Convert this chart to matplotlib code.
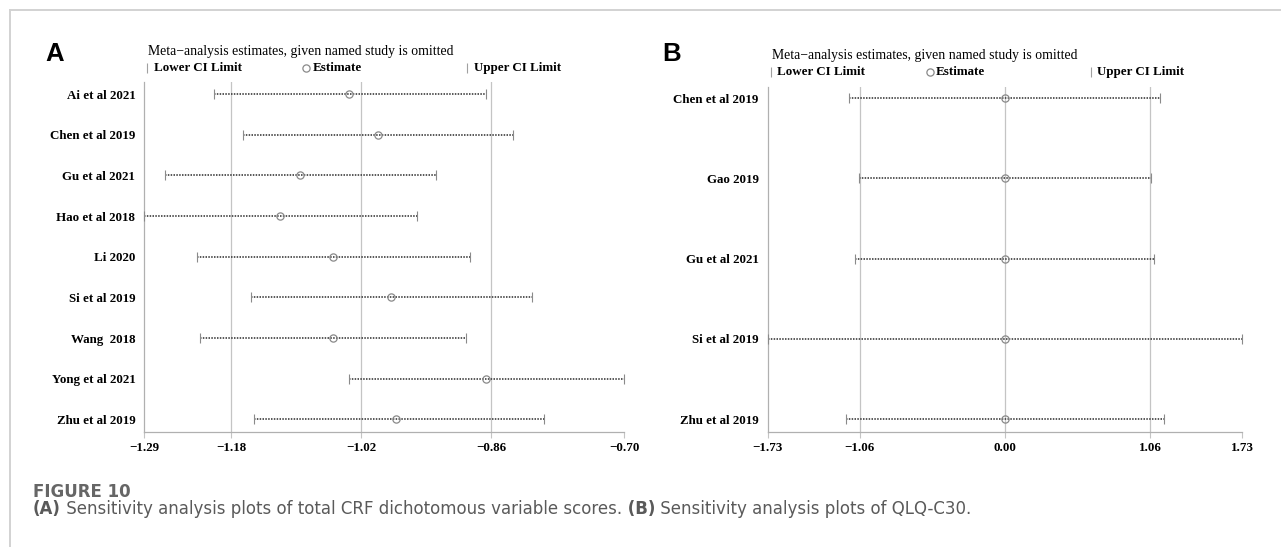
import matplotlib
matplotlib.use('Agg')
import matplotlib.pyplot as plt
from matplotlib.lines import Line2D

W, H = 1281, 547

# (A) total CRF dichotomous variable scores
studies_a = ['Ai et al 2021', 'Chen et al 2019', 'Gu et al 2021', 'Hao et al 2018', 'Li 2020',
             'Si et al 2019', 'Wang  2018', 'Yong et al 2021', 'Zhu et al 2019']
est_a = [-1.035, -0.999, -1.095, -1.120, -1.055, -0.984, -1.055, -0.867, -0.978]
lower_a = [-1.201, -1.165, -1.261, -1.287, -1.222, -1.156, -1.219, -1.035, -1.152]
upper_a = [-0.867, -0.834, -0.928, -0.951, -0.887, -0.810, -0.891, -0.697, -0.795]
overall_a = [-1.18, -1.02, -0.86]

# (B) QLQ-C30
studies_b = ['Chen et al 2019', 'Gao 2019', 'Gu et al 2021', 'Si et al 2019', 'Zhu et al 2019']
est_b = [0.00, 0.00, 0.00, 0.00, 0.00]
lower_b = [-1.135, -1.065, -1.090, -1.730, -1.160]
upper_b = [1.135, 1.065, 1.090, 1.730, 1.160]
overall_b = [-1.06, 0.00, 1.06]

TITLE = 'Meta\u2212analysis estimates, given named study is omitted'
SERIF = 'Liberation Serif'
GRID = '#c4c4c4'
MARK = '#8a8a8a'
CAPTION_GREY = '#5a5a5a'
CAPTION_FONT = 'DejaVu Sans'


def fx(px):
    return px / W


def fy(py):
    return 1 - py / H


def fmt(v):
    return ('%.2f' % v).replace('-', '\u2212')


def sensitivity_panel(fig, rect, studies, est, lower, upper, overall, ylim):
    ax = fig.add_axes(rect)
    n = len(studies)
    rows = list(range(n))

    lo, hi = min(lower), max(upper)
    ax.set_xlim(lo, hi)
    ax.set_ylim(*ylim)

    for v in overall:
        ax.axvline(v, color=GRID, lw=0.9, zorder=0)

    for i in rows:
        ax.plot([lower[i], upper[i]], [i, i], ls=(0, (0.9, 0.8)), color='#3c3c3c', lw=1.2, zorder=2)
        ax.plot([lower[i], upper[i]], [i, i], ls='none', marker='|', ms=6.5, mew=0.8,
                color=MARK, clip_on=False, zorder=3)
    ax.plot(est, rows, ls='none', marker='o', ms=5.2, mfc='none', mec=MARK, mew=0.9,
            clip_on=False, zorder=4)

    ticks = [lo] + overall + [hi]
    ax.set_xticks(ticks)
    ax.set_xticklabels([fmt(t) for t in ticks], family=SERIF, weight='bold', fontsize=9.4)
    ax.tick_params(axis='x', direction='out', length=4.3, width=0.8, color=GRID, pad=3.2)

    ax.set_yticks(rows)
    ax.set_yticklabels(studies, family=SERIF, weight='bold', fontsize=9.4)
    ax.tick_params(axis='y', length=0, pad=6.5)

    for s in ['top', 'right']:
        ax.spines[s].set_visible(False)
    for s in ['left', 'bottom']:
        ax.spines[s].set_color('#b0b0b0')
        ax.spines[s].set_linewidth(0.9)
    return ax


def header(fig, letter, x_letter, x0, y_title, y_leg):
    fig.text(fx(x_letter), fy(54), letter, family='Liberation Sans', weight='bold',
             fontsize=18.5, va='center', ha='left')
    fig.text(fx(x0 + 4), fy(y_title), TITLE, family=SERIF, fontsize=9.9, va='center')

    # legend: lower limit, estimate, upper limit
    items = [(3, '|', 'Lower CI Limit'), (162, 'o', 'Estimate'), (323, '|', 'Upper CI Limit')]
    for dx, marker, label in items:
        if marker == 'o':
            fig.add_artist(Line2D([fx(x0 + dx)], [fy(y_leg)], marker='o', ms=5.2, mfc='none',
                                  mec=MARK, mew=0.9, ls='none'))
            tx = x0 + dx + 6
        else:
            fig.add_artist(Line2D([fx(x0 + dx)], [fy(y_leg)], marker='|', ms=6.5, mew=0.8,
                                  color='#a0a0a0', ls='none'))
            tx = x0 + dx + 6.5
        fig.text(fx(tx), fy(y_leg), label, family=SERIF, weight='bold', fontsize=9.4,
                 va='center')


def caption(fig):
    cax = fig.add_axes([0, 0, 1, 1])
    cax.axis('off')
    cax.text(fx(33), fy(492), 'FIGURE 10', family=CAPTION_FONT, weight='bold',
             fontsize=12, color='#666666', va='center', transform=fig.transFigure)
    parts = [('(A)', 'bold'),
             (' Sensitivity analysis plots of total CRF dichotomous variable scores.', 'normal'),
             (' (B)', 'bold'),
             (' Sensitivity analysis plots of QLQ-C30.', 'normal')]
    prev = cax.text(fx(33), fy(518), parts[0][0], family=CAPTION_FONT, weight=parts[0][1],
                    fontsize=12, color=CAPTION_GREY, va='bottom', transform=fig.transFigure)
    for text, weight in parts[1:]:
        prev = cax.annotate(text, xy=(1, 0), xycoords=prev, va='bottom', ha='left',
                            family=CAPTION_FONT, weight=weight, fontsize=12,
                            color=CAPTION_GREY)


def plot_sensitivity():
    fig = plt.figure(figsize=(W / 100, H / 100), dpi=100)

    # page frame
    fig.add_artist(Line2D([fx(10), 1], [fy(9.5), fy(9.5)], color='#d2d2d2', lw=1.4))
    fig.add_artist(Line2D([fx(10), fx(10)], [fy(9.5), 0], color='#d2d2d2', lw=1.4))

    sp_a = 40.66
    sensitivity_panel(fig, [fx(144.3), fy(431.7), (624 - 144.3) / W, (431.7 - 82) / H],
                      studies_a, est_a, lower_a, upper_a, overall_a,
                      (8 + 12.3 / sp_a, -12 / sp_a))
    sp_b = 80.3
    sensitivity_panel(fig, [fx(767.7), fy(432), (1242 - 767.7) / W, (432 - 87) / H],
                      studies_b, est_b, lower_b, upper_b, overall_b,
                      (4 + 12.7 / sp_b, -11 / sp_b))

    header(fig, 'A', 45, 144.3, 51, 68)
    header(fig, 'B', 662, 767.7, 55, 72)
    caption(fig)

    fig.savefig('out.png', dpi=100)


if __name__ == "__main__":
    plot_sensitivity()
